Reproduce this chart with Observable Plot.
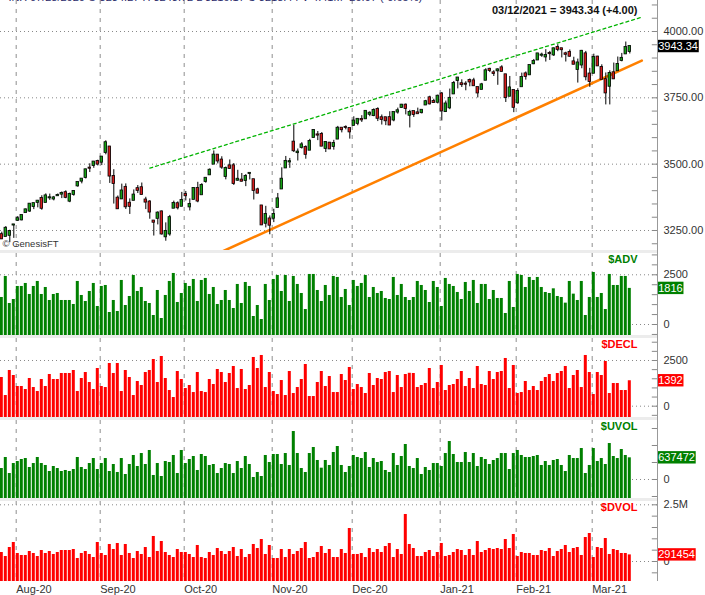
<!DOCTYPE html>
<html>
<head>
<meta charset="utf-8">
<script src="https://cdn.jsdelivr.net/npm/d3@7"></script>
<script src="https://cdn.jsdelivr.net/npm/@observablehq/plot@0.6"></script>
<style>
  html, body { margin: 0; padding: 0; background: #fff; }
  #chart { position: relative; width: 705px; height: 595px; overflow: hidden; font-family: 'Liberation Sans', Arial, sans-serif; }
  #chart > div.p { position: absolute; left: 0; }
  #chart svg { overflow: visible; }
  .sep { position: absolute; left: 0; width: 657px; background: #ececec; }
  #axisline { position: absolute; left: 656.5px; top: 0; width: 1px; height: 581px; background: #999; }
</style>
</head>
<body>
<div id="chart"></div>
<script>
// ---------- DATA (trading-day index 0 = 2020-07-28 ... 157 = 2021-03-12) ----------
const monthLabels = ["Aug-20","Sep-20","Oct-20","Nov-20","Dec-20","Jan-21","Feb-21","Mar-21"];
const monthStart  = [4, 25, 46, 68, 88, 110, 129, 148];

const open = [
3234.3,3227.2,3231.8,3270.5,3288.3,3289.9,3317.4,3323.2,3340.1,3356.0,
3370.3,3355.5,3372.9,3368.7,3380.9,3387.0,3392.5,3360.5,3386.0,3418.1,
3436.0,3450.0,3485.1,3494.7,3509.7,3507.4,3543.8,3564.7,3453.6,3371.9,
3369.0,3412.6,3352.7,3363.6,3407.7,3411.2,3365.0,3357.4,3285.6,3295.8,
3320.1,3226.1,3236.7,3333.9,3350.9,3341.2,3385.9,3338.9,3367.3,3408.7,
3384.6,3434.3,3459.7,3500.0,3534.0,3515.5,3453.7,3493.5,3493.7,3439.4,
3439.9,3438.5,3464.9,3441.4,3403.2,3342.5,3277.2,3293.6,3296.2,3336.3,
3406.5,3485.7,3508.3,3583.0,3543.3,3563.2,3562.7,3552.6,3600.2,3610.3,
3612.1,3559.4,3579.3,3566.8,3594.5,3635.5,3638.6,3634.2,3645.9,3653.8,
3668.3,3670.9,3688.0,3683.0,3706.0,3675.0,3675.0,3675.3,3666.4,3696.3,
3713.7,3722.4,3684.3,3698.1,3693.4,3694.0,3723.0,3750.0,3736.2,3733.3,
3764.6,3698.0,3712.2,3764.7,3815.0,3803.1,3801.6,3815.0,3814.0,3788.7,
3781.9,3816.2,3857.5,3844.2,3851.7,3863.0,3836.8,3755.8,3778.0,3731.2,
3791.8,3840.3,3836.7,3878.3,3892.6,3910.5,3904.0,3917.4,3911.7,3939.6,
3935.0,3915.9,3921.2,3885.6,3857.1,3873.7,3915.8,3839.7,3842.5,3903.6,
3864.0,3818.5,3793.6,3844.4,3851.9,3891.0,3915.5,3924.5];
const high = [
3243.7,3264.7,3250.9,3272.2,3302.7,3306.8,3330.8,3351.0,3352.5,3363.3,
3381.0,3387.9,3387.2,3378.5,3387.6,3395.1,3399.5,3390.8,3400.0,3432.1,
3444.2,3481.1,3501.4,3509.2,3514.8,3528.0,3588.1,3564.9,3479.2,3380.0,
3424.8,3425.6,3369.0,3402.9,3419.5,3428.9,3375.2,3362.3,3285.6,3320.3,
3323.4,3278.7,3306.9,3360.7,3357.9,3393.6,3397.2,3369.1,3409.6,3431.6,
3426.3,3447.3,3482.3,3549.9,3534.0,3527.9,3489.1,3515.8,3502.4,3476.9,
3464.9,3460.5,3466.5,3441.4,3409.5,3342.5,3341.1,3304.9,3330.1,3389.5,
3486.3,3529.0,3521.6,3646.0,3557.2,3581.2,3569.0,3593.7,3628.5,3623.1,
3619.1,3585.2,3581.2,3589.8,3642.3,3635.5,3644.3,3634.2,3678.5,3671.0,
3682.7,3699.2,3697.4,3708.5,3712.4,3685.3,3675.0,3697.6,3695.3,3711.3,
3725.1,3726.7,3702.9,3698.3,3711.2,3703.8,3740.5,3756.1,3744.6,3760.2,
3770.0,3737.8,3783.0,3811.6,3826.7,3817.9,3810.8,3821.0,3823.6,3788.7,
3804.5,3859.8,3861.5,3852.3,3859.2,3870.9,3836.8,3830.5,3778.0,3784.3,
3843.1,3847.5,3872.4,3894.6,3915.8,3918.4,3931.5,3925.0,3937.2,3950.4,
3935.0,3922.0,3930.4,3902.9,3896.0,3928.7,3925.0,3861.1,3914.5,3906.4,
3874.5,3843.7,3851.7,3881.1,3903.8,3917.4,3960.3,3945.0];
const low = [
3216.2,3227.2,3204.1,3220.3,3284.5,3286.4,3317.4,3318.1,3328.7,3335.4,
3326.4,3355.5,3363.4,3361.6,3379.2,3370.2,3369.7,3354.7,3379.3,3413.1,
3425.8,3444.2,3468.4,3484.3,3493.2,3494.6,3535.2,3427.4,3349.6,3329.3,
3366.8,3329.3,3310.5,3363.6,3389.3,3384.5,3328.8,3292.4,3229.1,3271.0,
3232.6,3209.5,3228.4,3332.9,3327.5,3340.5,3361.4,3323.7,3367.3,3354.5,
3384.6,3428.2,3458.1,3499.6,3500.9,3480.6,3440.9,3480.5,3419.9,3435.7,
3433.1,3415.3,3440.5,3364.9,3388.7,3268.9,3259.8,3233.9,3279.7,3336.3,
3405.2,3485.7,3484.3,3543.8,3511.9,3557.0,3518.6,3552.6,3600.2,3588.7,
3567.3,3543.8,3556.9,3552.8,3594.5,3617.8,3629.3,3594.4,3645.9,3644.8,
3657.2,3670.9,3678.9,3678.8,3660.5,3647.4,3645.2,3645.8,3659.6,3688.6,
3710.9,3685.8,3636.5,3676.2,3689.3,3689.3,3723.0,3723.3,3730.2,3726.9,
3662.7,3695.1,3705.3,3764.7,3783.6,3789.0,3776.5,3791.5,3792.9,3749.6,
3780.4,3816.2,3845.1,3830.4,3797.2,3847.8,3732.5,3755.8,3694.1,3725.6,
3791.8,3816.7,3836.7,3874.9,3892.6,3902.6,3884.9,3890.8,3905.8,3923.9,
3900.4,3885.0,3903.1,3874.7,3805.6,3859.6,3814.0,3789.5,3842.5,3868.6,
3818.9,3723.3,3723.2,3819.3,3851.9,3885.7,3915.5,3915.2];
const close = [
3218.4,3258.4,3246.2,3271.1,3294.6,3306.5,3327.8,3349.2,3351.3,3360.5,
3333.7,3380.4,3373.4,3372.9,3382.0,3389.8,3374.9,3385.5,3397.2,3431.3,
3443.6,3478.7,3484.6,3508.0,3500.3,3526.7,3580.8,3455.1,3427.0,3331.8,
3399.0,3339.2,3341.0,3383.5,3401.2,3385.5,3357.0,3319.5,3281.1,3315.6,
3236.9,3246.6,3298.5,3351.6,3335.5,3363.0,3380.8,3348.4,3408.6,3361.0,
3419.4,3446.8,3477.1,3534.2,3511.9,3488.7,3483.3,3483.8,3426.9,3443.1,
3435.6,3453.5,3465.4,3401.0,3390.7,3271.0,3310.1,3270.0,3310.2,3369.2,
3443.4,3510.5,3509.4,3550.5,3545.5,3572.7,3537.0,3585.2,3626.9,3609.5,
3567.8,3581.9,3557.5,3577.6,3635.4,3629.7,3638.4,3621.6,3662.5,3669.0,
3666.7,3699.1,3692.0,3702.3,3672.8,3668.1,3663.5,3647.5,3694.6,3701.2,
3722.5,3709.4,3694.9,3687.3,3690.0,3703.1,3735.4,3727.0,3732.0,3756.1,
3700.7,3726.9,3748.1,3803.8,3824.7,3799.6,3801.2,3809.8,3795.5,3768.3,
3798.9,3851.9,3853.1,3841.5,3855.4,3849.6,3750.8,3787.4,3714.2,3773.9,
3826.3,3830.2,3871.7,3886.8,3915.6,3911.2,3909.9,3916.4,3934.8,3932.6,
3931.3,3914.0,3906.7,3876.5,3881.4,3925.4,3829.3,3811.2,3901.8,3870.3,
3819.7,3768.5,3841.9,3821.4,3875.4,3898.8,3939.34,3943.34];

const adv = [
1359,2416,1057,1258,1913,1913,2064,1510,1913,2165,
1510,1862,1208,1510,1560,1208,1208,1208,1007,2165,
1460,1158,1661,2064,906,1913,1963,604,1208,654,
2215,956,1409,2467,1661,1862,1158,1057,453,1711,
302,1460,2165,2567,1107,1560,2064,1913,2265,1158,
2215,2316,1510,1862,1007,1208,1711,1208,805,2014,
1057,2114,1913,403,956,252,2014,1208,2265,2467,
1661,2467,1158,2416,2014,1560,755,2517,2517,1711,
1158,1963,1460,2416,2366,1359,1762,956,2215,1913,
2064,2467,1359,1862,1560,1661,1309,1258,2366,1460,
2014,1359,1208,1359,2165,1963,1711,1107,2165,1862,
906,2316,2014,1913,1611,1258,2114,1661,2215,1057,
2014,2014,1258,1711,1309,1309,554,2165,856,2517,
2467,1862,2366,2215,2366,1862,1611,1560,1795,1409,
1359,1074,2165,1527,1208,2165,453,1359,2617,1359,
1560,755,2517,1963,1963,2416,2416,1816];
const decl = [
1570,584,1953,1679,1077,1077,913,1515,1022,803,
1460,1077,1734,1460,1460,1789,1789,1789,1953,803,
1515,1843,1296,913,2062,1077,1022,2336,1789,2336,
803,1953,1570,584,1351,1132,1843,1953,2555,1296,
2719,1515,858,475,1898,1460,967,1132,748,1843,
803,748,1460,1186,2008,1843,1296,1789,2172,967,
2008,913,1132,2665,2062,2774,1022,1843,803,639,
1405,584,1898,694,1022,1460,2281,529,529,1296,
1898,1077,1624,748,748,1734,1405,2117,913,1186,
1022,694,1789,1132,1515,1460,1843,1898,748,1679,
1022,1734,1800,1789,1022,1132,1241,2062,967,1296,
2227,858,1132,1186,1460,1898,1077,1515,967,2172,
1186,1132,1898,1460,1843,1898,2610,967,2227,694,
748,1351,858,1077,858,1351,1570,1734,1351,1789,
1898,2172,967,1679,1953,1022,2774,1843,639,1843,
1679,2446,694,1241,1241,858,858,1392];
// up / down volume, in thousands
const uvol = [
323,647,176,470,529,588,617,353,470,647,
470,412,235,382,323,235,265,235,294,647,
353,294,470,617,294,470,617,235,441,206,
617,147,441,706,382,764,441,853,118,470,
88,529,500,706,176,853,470,588,676,265,
735,676,412,441,176,323,470,441,176,529,
323,676,441,59,206,88,706,500,735,735,
441,764,412,1411,764,323,206,764,941,559,
333,559,412,794,970,412,206,382,706,647,
617,794,353,617,500,529,265,206,764,412,
676,1029,382,323,617,147,353,265,470,470,
382,764,1117,735,500,500,794,500,764,382,
647,588,441,559,617,764,764,294,764,853,
706,647,647,676,706,412,529,412,559,588,
412,235,706,617,617,911,176,412,911,529,
617,441,1058,676,617,882,706,637.472];
const dvol = [
397,220,617,838,353,265,265,441,353,220,
485,353,441,309,397,485,485,485,529,132,
353,441,309,176,838,353,265,750,529,794,
265,750,353,132,441,309,617,176,1103,441,
882,397,265,176,529,397,397,309,176,706,
176,132,397,265,573,441,309,441,617,220,
529,176,309,750,573,970,309,706,132,132,
529,176,529,309,441,573,838,132,176,397,
661,353,529,176,176,529,353,1455,309,309,
353,176,573,397,529,397,661,794,176,529,
309,2073,750,573,220,220,397,485,220,397,
794,220,265,397,529,485,265,529,265,882,
397,485,573,529,573,529,970,573,1191,220,
397,353,353,265,265,485,441,573,220,441,
529,706,397,573,617,265,1058,1235,176,617,
573,1014,309,529,485,353,353,291.454];

// trend lines drawn on the chart (trading-day index, price)
const resistanceLine = [{i: 37, p: 3485}, {i: 160, p: 4054}];
const supportLine    = [{i: 55, p: 3170}, {i: 160, p: 3890}];

const priceTicks = [3250, 3500, 3750, 4000];
const breadthTicks = [0, 2500];
const dvolTicks = [0, 2500];

// ---------- BUILD ----------
const FONT = "'Liberation Sans', Arial, sans-serif";
const GREEN = "#008000", RED = "#ff0000";
const xDomain = [-0.325, 163.925];
const xMax = xDomain[1];
const N = close.length;
const candles = close.map((c, i) => ({i, open: open[i], high: high[i], low: low[i], close: c}));
const series = arr => arr.map((v, i) => ({i, v}));
const monthTicks = monthLabels.map((label, k) => ({label, i: monthStart[k]}));

const ctx = document.createElement("canvas").getContext("2d");
function boxMark(value, label, bg) {
  return (index, scales, values, dims) => {
    ctx.font = "11px " + FONT;
    const w = ctx.measureText(label).width;
    const x0 = dims.width - dims.marginRight;
    const y = scales.y(value);
    const g = d3.create("svg:g");
    g.append("rect").attr("x", x0 + 0.5).attr("y", y - 6.2).attr("width", w + 1.5).attr("height", 12.4).attr("fill", bg);
    g.append("text").attr("x", x0 + 1.2).attr("y", y).attr("dy", "0.36em").attr("text-anchor", "start")
      .attr("fill", "white").attr("font-size", 11).attr("font-family", FONT).text(label);
    return g.node();
  };
}

function monthGrid() {
  return Plot.ruleX(monthTicks, {x: d => d.i - 0.4, stroke: "#999", strokeWidth: 1.1, strokeDasharray: "4,5"});
}
function innerTicks(vals) {
  return Plot.ruleY(vals, {x1: () => xMax - 1.3, x2: () => xMax, stroke: "#888"});
}
function rightLabels(ticks, fmt) {
  return Plot.axisY({anchor: "right", ticks, tickSize: 0, tickPadding: 6, tickFormat: fmt, label: null, color: "#333", fontSize: 11});
}
function panelTitle(t, color, dy) {
  return Plot.text([t], {text: d => d, frameAnchor: "top-right", dx: -20, dy, lineAnchor: "middle",
    fill: color, fontWeight: "bold", fontSize: 11});
}
function plotPanel(height, domain, marks, marginBottom = 0) {
  return Plot.plot({
    width: 705, height, marginTop: 0, marginBottom, marginLeft: 0, marginRight: 48,
    x: {domain: xDomain, axis: null},
    y: {domain, label: null},
    style: {fontFamily: FONT, fontSize: "11px", background: "white", overflow: "visible"},
    marks
  });
}
function range(a, b, s) { const r = []; for (let v = a; v <= b; v += s) r.push(v); return r; }

// price panel
const priceDomain = [3174.6, 4116.8];
const last = N - 1;
const chg = close[last] - close[last - 1];
const header = `03/12/2021 = ${close[last].toFixed(2)} (${chg >= 0 ? "+" : ""}${chg.toFixed(2)})`;
const pricePlot = plotPanel(250, priceDomain, [
  Plot.ruleY(priceTicks, {stroke: "#888", strokeDasharray: "1,3"}),
  monthGrid(),
  Plot.line(resistanceLine, {x: "i", y: "p", stroke: "#00b400", strokeWidth: 1.3, strokeDasharray: "3,3", clip: true}),
  Plot.line(supportLine, {x: "i", y: "p", stroke: "#ff8000", strokeWidth: 2.6, clip: true}),
  Plot.ruleX(candles, {x: "i", y1: "low", y2: "high", stroke: "#000", strokeWidth: 1}),
  Plot.rect(candles, {
    x1: d => d.i - 0.32, x2: d => d.i + 0.32,
    y1: d => Math.min(d.open, d.close), y2: d => Math.max(d.open, d.close),
    insetTop: -0.5, insetBottom: -0.5,
    fill: d => d.close >= d.open ? "#14a014" : "#d41c1c", stroke: "#000", strokeWidth: 0.8
  }),
  innerTicks(range(3200, 4100, 50)),
  rightLabels(priceTicks, d => d.toFixed(2)),
  Plot.text([header], {text: d => d, frameAnchor: "top-right", dx: -20, dy: 10, lineAnchor: "middle", fontWeight: "bold", fontSize: 11, fill: "#111"}),
  Plot.text(["INX 07/28/2020 O 3234.27 H 3243.72 L 3216.17 C 3218.44 V 4.41M -20.97 (-0.65%)"],
    {text: d => d, frameAnchor: "top-left", dx: 8, dy: -2.6, lineAnchor: "middle", textAnchor: "start", fontSize: 11, fill: "#2a2a6a"}),
  Plot.text(["© GenesisFT"], {text: d => d, frameAnchor: "bottom-left", dx: 2, dy: -7, lineAnchor: "middle", textAnchor: "start", fontSize: 9.5, fill: "#333"}),
  boxMark(close[last], close[last].toFixed(2), "#000")
]);

function barPanel(height, domain, arr, color, gridVals, tickVals, labelVals, fmt, title, titleDy, lastLabel, extra = [], mb = 0) {
  return plotPanel(height, domain, [
    Plot.ruleY(gridVals, {stroke: "#888", strokeDasharray: "1,3"}),
    monthGrid(),
    Plot.rect(series(arr), {x1: d => d.i - 0.375, x2: d => d.i + 0.375, y1: () => domain[0], y2: "v", fill: color}),
    innerTicks(tickVals),
    rightLabels(labelVals, fmt),
    panelTitle(title, color, titleDy),
    boxMark(arr[arr.length - 1], lastLabel, color),
    ...extra
  ], mb);
}

const advPlot = barPanel(82, [-553, 3571], adv, GREEN, [0, 2500], range(-500, 3500, 500), breadthTicks, d => String(d),
  "$ADV", 5.5, String(adv[last]));
const declPlot = barPanel(79, [-618, 3703], decl, RED, [0, 2500], range(-500, 3500, 500), breadthTicks, d => String(d),
  "$DECL", 6, String(decl[last]));
const uvolPlot = barPanel(78, [-559, 1735], uvol, GREEN, [0], range(-500, 1500, 500), [0], d => String(d),
  "$UVOL", 5.5, String(Math.round(uvol[last] * 1000)));
const dvolPlot = barPanel(94, [-882, 2646], dvol, RED, [0, 2500], range(-500, 2500, 500), dvolTicks, d => d === 0 ? "0" : (d / 1000) + "M",
  "$DVOL", 5.5, String(Math.round(dvol[last] * 1000)),
  [Plot.text(monthTicks, {x: d => d.i - 0.4, text: d => d.label, frameAnchor: "bottom", dy: 8, textAnchor: "start", lineAnchor: "middle", fill: "#333", fontSize: 11})],
  14);

// ---------- LAYOUT ----------
const chart = document.getElementById("chart");
for (const [top, h] of [[250, 3], [335, 3], [417, 3], [498, 3]]) {
  const s = document.createElement("div");
  s.className = "sep"; s.style.top = top + "px"; s.style.height = h + "px";
  chart.appendChild(s);
}
const panels = [[pricePlot, 0], [advPlot, 253], [declPlot, 338], [uvolPlot, 420], [dvolPlot, 501]];
for (const [p, top] of panels) {
  const d = document.createElement("div");
  d.className = "p"; d.style.top = top + "px";
  d.appendChild(p);
  chart.appendChild(d);
}
const ax = document.createElement("div"); ax.id = "axisline"; chart.appendChild(ax);
</script>
</body>
</html>
